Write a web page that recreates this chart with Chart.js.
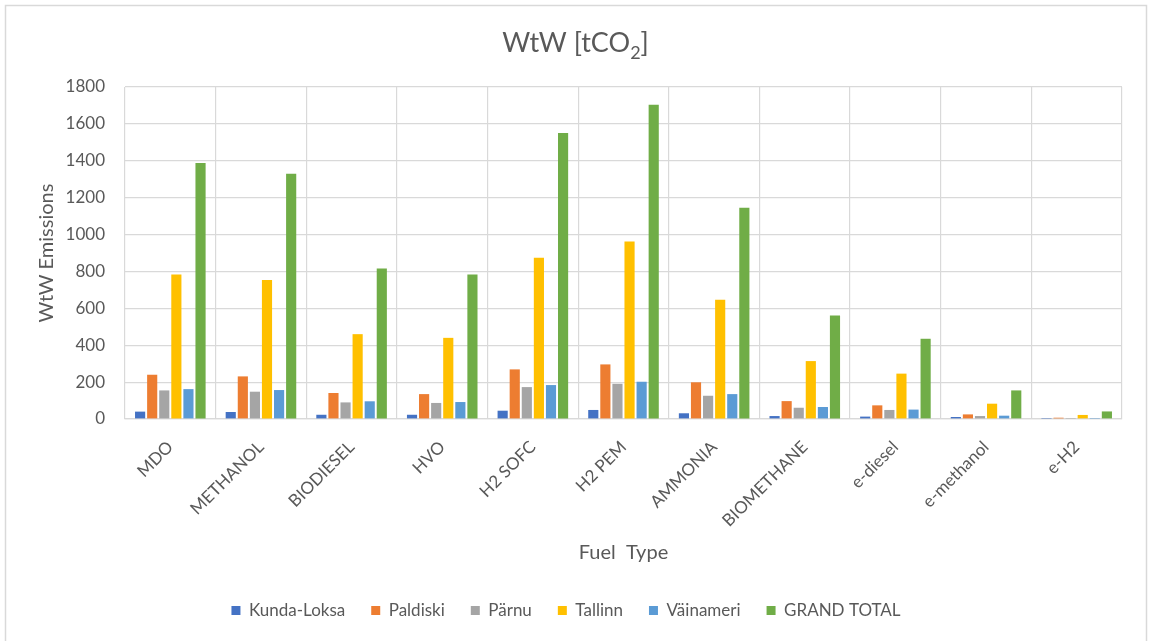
<!DOCTYPE html>
<html>
<head>
<meta charset="utf-8">
<script src="https://cdn.jsdelivr.net/npm/chart.js@4.4.1/dist/chart.umd.min.js"></script>
<style>
  html, body { margin: 0; padding: 0; background: #ffffff; }
  #wrap { position: relative; width: 1151px; height: 641px; }
</style>
</head>
<body>
<div id="wrap"><canvas id="chart" width="1151" height="641"></canvas></div>
<script>
// Fuel types on the category axis
const fuelTypes = ['MDO', 'METHANOL', 'BIODIESEL', 'HVO', 'H2 SOFC', 'H2 PEM',
  'AMMONIA', 'BIOMETHANE', 'e-diesel', 'e-methanol', 'e-H2'];

// Well-to-wake emissions per port [tCO2]
const kundaLoksa = [40, 38, 23, 23, 45, 49, 31, 16, 13, 11, 1];
const paldiski   = [240, 231, 141, 135, 269, 296, 199, 97, 74, 25, 7];
const parnu      = [155, 148, 90, 87, 173, 191, 126, 61, 49, 16, 1];
const tallinn    = [783, 753, 460, 440, 874, 962, 646, 314, 246, 83, 22];
const vainameri  = [162, 157, 96, 92, 184, 202, 135, 65, 51, 18, 1];
const grandTotal = [1388, 1330, 816, 783, 1551, 1704, 1146, 561, 435, 155, 41];

const seriesNames = ['Kunda-Loksa', 'Paldiski', 'Pärnu', 'Tallinn', 'Väinameri', 'GRAND TOTAL'];
const seriesValues = [kundaLoksa, paldiski, parnu, tallinn, vainameri, grandTotal];
const seriesColors = ['#4472C4', '#ED7D31', '#A5A5A5', '#FFC000', '#5B9BD5', '#70AD47'];

const yTicks = { min: 0, max: 1800, step: 200 };

const FONT = 'Lato, "Open Sans", "Liberation Sans", sans-serif';
const TEXT = '#595959';
const GRID = '#d9d9d9';

// Plot rectangle inside the canvas
const PLOT = { left: 125, right: 1122, top: 87, bottom: 419 };
const LEGEND_TOP = 576;

// White background and the outer frame of the chart
const framePlugin = {
  id: 'frame',
  beforeDraw(chart) {
    const ctx = chart.ctx;
    ctx.save();
    ctx.fillStyle = '#ffffff';
    ctx.fillRect(0, 0, chart.width, chart.height);
    ctx.strokeStyle = '#d9d9d9';
    ctx.lineWidth = 1.5;
    ctx.beginPath();
    ctx.moveTo(5.5, chart.height + 2);
    ctx.lineTo(5.5, 5.5);
    ctx.lineTo(1146.5, 5.5);
    ctx.lineTo(1146.5, chart.height + 2);
    ctx.stroke();
    ctx.restore();
  }
};

// Chart title with a true subscript in CO2
const titlePlugin = {
  id: 'subTitle',
  afterDraw(chart) {
    const ctx = chart.ctx;
    const main = '27px ' + FONT;
    const sub = '18px ' + FONT;
    const parts = [['WtW [tCO', main, 0], ['2', sub, 7], [']', main, 0]];
    ctx.save();
    ctx.fillStyle = TEXT;
    ctx.textBaseline = 'alphabetic';
    let total = 0;
    parts.forEach(p => { ctx.font = p[1]; total += ctx.measureText(p[0]).width; });
    let x = chart.width / 2 - total / 2;
    const base = 52;
    parts.forEach(p => {
      ctx.font = p[1];
      ctx.fillText(p[0], x, base + p[2]);
      x += ctx.measureText(p[0]).width;
    });
    ctx.restore();
  }
};

new Chart(document.getElementById('chart'), {
  type: 'bar',
  data: {
    labels: fuelTypes,
    datasets: seriesNames.map((name, i) => ({
      label: name,
      data: seriesValues[i],
      backgroundColor: seriesColors[i],
      borderWidth: 0,
      categoryPercentage: 0.8,
      barPercentage: 0.84
    }))
  },
  options: {
    responsive: false,
    animation: false,
    layout: { padding: { left: 10, right: 1151 - PLOT.right, top: PLOT.top, bottom: 12 } },
    plugins: {
      title: { display: false },
      legend: {
        position: 'bottom',
        labels: {
          color: TEXT,
          font: { family: FONT, size: 17 },
          boxWidth: 9,
          boxHeight: 9,
          padding: 26
        }
      },
      tooltip: { enabled: false }
    },
    scales: {
      x: {
        grid: { color: GRID, lineWidth: 1.2, drawTicks: false, offset: true },
        border: { color: GRID, width: 1.2 },
        ticks: {
          color: TEXT,
          font: { family: FONT, size: 17 },
          minRotation: 45,
          maxRotation: 45,
          autoSkip: false,
          padding: 18
        },
        title: {
          display: true,
          text: 'Fuel  Type',
          color: TEXT,
          font: { family: FONT, size: 20 },
          padding: { top: 4, bottom: 11 }
        },
        afterFit(scale) { scale.height = LEGEND_TOP - PLOT.bottom; }
      },
      y: {
        min: yTicks.min,
        max: yTicks.max,
        grid: { color: GRID, lineWidth: 1.2, drawTicks: false },
        border: { display: false },
        ticks: {
          stepSize: yTicks.step,
          color: TEXT,
          font: { family: FONT, size: 17 },
          padding: 20,
          callback: v => String(v)
        },
        title: {
          display: true,
          text: 'WtW Emissions',
          color: TEXT,
          font: { family: FONT, size: 20 },
          padding: { top: 25, bottom: 0 }
        },
        afterFit(scale) { scale.width = PLOT.left - 10; }
      }
    }
  },
  plugins: [framePlugin, titlePlugin]
});
</script>
</body>
</html>
